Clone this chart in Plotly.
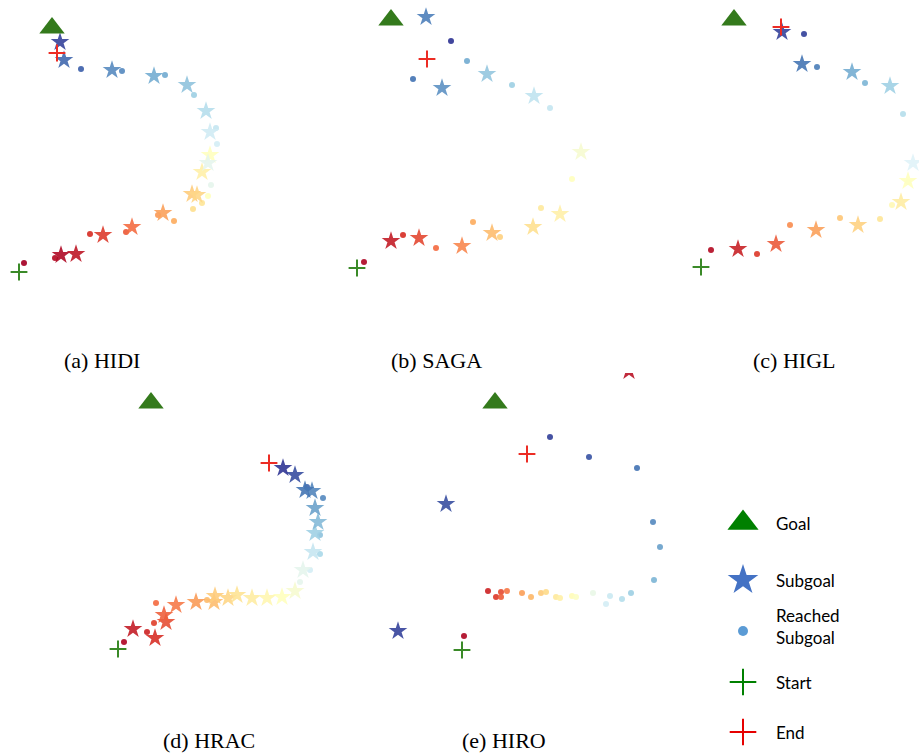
import plotly.graph_objects as go

W, H = 919, 755

# ---------------- data (image pixel coordinates, t = progress along trajectory: 0 start(red) -> 1 end(blue)) -------------
# (a) HIDI
hidi_star_x = [61, 76, 103, 132, 163, 192, 197, 202, 210, 208, 210, 206, 187, 154, 112, 64, 60]
hidi_star_y = [255, 254, 235, 227, 213, 194, 195, 172, 155, 163, 132, 111, 85, 76, 70, 60, 42]
hidi_star_t = [0.02, 0.05, 0.12, 0.2, 0.28, 0.36, 0.38, 0.45, 0.5, 0.58, 0.63, 0.68, 0.75, 0.8, 0.86, 0.92, 0.98]
hidi_dot_x = [24, 55, 90, 126, 158, 174, 193, 202, 208, 211, 217, 216, 194, 165, 122, 81]
hidi_dot_y = [263, 258, 234, 232, 215, 221, 209, 203, 196, 185, 144, 128, 95, 75, 71, 69]
hidi_dot_t = [0.0, 0.03, 0.1, 0.17, 0.27, 0.3, 0.4, 0.42, 0.5, 0.58, 0.62, 0.65, 0.72, 0.8, 0.86, 0.93]
hidi_goal, hidi_start, hidi_end = (52, 28), (19, 272), (57, 53)

# (b) SAGA
saga_star_x = [391, 419, 462, 492, 533, 560, 581, 534, 487, 442, 426]
saga_star_y = [241, 238, 246, 233, 227, 214, 152, 96, 74, 88, 17]
saga_star_t = [0.06, 0.14, 0.24, 0.33, 0.4, 0.45, 0.53, 0.66, 0.74, 0.85, 0.88]
saga_dot_x = [364, 403, 436, 473, 500, 541, 572, 550, 512, 467, 413, 451]
saga_dot_y = [262, 235, 248, 222, 237, 208, 179, 108, 85, 61, 79, 41]
saga_dot_t = [0.02, 0.1, 0.2, 0.3, 0.37, 0.43, 0.5, 0.65, 0.72, 0.8, 0.9, 1.0]
saga_goal, saga_start, saga_end = (391, 20), (357, 268), (427, 59)

# (c) HIGL
higl_star_x = [738, 776, 816, 858, 901, 908, 913, 890, 852, 802, 782]
higl_star_y = [249, 244, 230, 225, 202, 181, 163, 86, 72, 64, 32]
higl_star_t = [0.07, 0.17, 0.28, 0.37, 0.44, 0.5, 0.6, 0.72, 0.8, 0.9, 0.98]
higl_dot_x = [711, 757, 790, 840, 880, 892, 908, 903, 865, 817, 804]
higl_dot_y = [250, 254, 225, 218, 219, 205, 182, 114, 83, 67, 34]
higl_dot_t = [0.03, 0.12, 0.25, 0.35, 0.42, 0.48, 0.58, 0.68, 0.78, 0.88, 0.98]
higl_goal, higl_start, higl_end = (734, 20), (701, 267), (781, 27)

# (d) HRAC
hrac_star_x = [133, 155, 166, 164, 176, 196, 214, 215, 228, 237, 252, 267, 282, 295, 303, 313, 315, 318, 315, 312, 305, 295, 283]
hrac_star_y = [629, 638, 622, 615, 605, 602, 602, 596, 598, 595, 598, 598, 597, 591, 570, 552, 533, 522, 508, 491, 490, 475, 468]
hrac_star_t = [0.06, 0.1, 0.15, 0.18, 0.22, 0.27, 0.33, 0.36, 0.38, 0.41, 0.44, 0.47, 0.5, 0.53, 0.58, 0.65, 0.72, 0.77, 0.82, 0.87, 0.9, 0.96, 1.0]
hrac_dot_x = [124, 147, 154, 156, 207, 300, 310, 320, 320, 323, 307]
hrac_dot_y = [642, 632, 623, 603, 600, 582, 570, 554, 535, 498, 487]
hrac_dot_t = [0.02, 0.08, 0.13, 0.2, 0.33, 0.58, 0.62, 0.7, 0.75, 0.86, 0.92]
hrac_goal, hrac_start, hrac_end = (151, 403), (118, 649), (269, 463)

# (e) HIRO
hiro_star_x = [629, 446, 398]
hiro_star_y = [371, 504, 631]
hiro_star_t = [0.04, 0.96, 0.98]
hiro_dot_x = [464, 488, 496, 501, 501, 507, 522, 531, 541, 546, 556, 560, 572, 576, 593, 606, 610, 622, 631, 654, 660, 653, 637, 589, 550]
hiro_dot_y = [636, 591, 597, 592, 597, 591, 593, 597, 593, 592, 597, 598, 596, 597, 593, 604, 596, 599, 593, 580, 547, 522, 468, 457, 437]
hiro_dot_t = [0.02, 0.08, 0.12, 0.15, 0.18, 0.22, 0.28, 0.32, 0.36, 0.39, 0.43, 0.45, 0.49, 0.51, 0.57, 0.62, 0.64, 0.68, 0.72, 0.78, 0.82, 0.86, 0.9, 0.95, 0.98]
hiro_goal, hiro_start, hiro_end = (495, 403), (462, 650), (527, 454)

captions = ["(a) HIDI", "(b) SAGA", "(c) HIGL", "(d) HRAC", "(e) HIRO"]
caption_pos = [(102, 360), (436, 360), (794, 360), (209, 740), (504, 740)]

legend_labels = ["Goal", "Subgoal", "Reached<br>Subgoal", "Start", "End"]
legend_y = [523, 580, 626, 682, 732]

# ---------------- panels: (pixel box x0, x1, y0, y1) ----------------
panels = [
    dict(box=(0, 230, 0, 300), sx=hidi_star_x, sy=hidi_star_y, st=hidi_star_t, dx=hidi_dot_x, dy=hidi_dot_y, dt=hidi_dot_t,
         goal=hidi_goal, start=hidi_start, end=hidi_end),
    dict(box=(330, 600, 0, 300), sx=saga_star_x, sy=saga_star_y, st=saga_star_t, dx=saga_dot_x, dy=saga_dot_y, dt=saga_dot_t,
         goal=saga_goal, start=saga_start, end=saga_end),
    dict(box=(680, 919, 0, 300), sx=higl_star_x, sy=higl_star_y, st=higl_star_t, dx=higl_dot_x, dy=higl_dot_y, dt=higl_dot_t,
         goal=higl_goal, start=higl_start, end=higl_end),
    dict(box=(80, 350, 385, 690), sx=hrac_star_x, sy=hrac_star_y, st=hrac_star_t, dx=hrac_dot_x, dy=hrac_dot_y, dt=hrac_dot_t,
         goal=hrac_goal, start=hrac_start, end=hrac_end),
    dict(box=(375, 690, 373, 690), sx=hiro_star_x, sy=hiro_star_y, st=hiro_star_t, dx=hiro_dot_x, dy=hiro_dot_y, dt=hiro_dot_t,
         goal=hiro_goal, start=hiro_start, end=hiro_end),
]

fig = go.Figure()
layout = dict(width=W, height=H, margin=dict(l=0, r=0, t=0, b=0), paper_bgcolor="white",
              plot_bgcolor="rgba(0,0,0,0)", showlegend=False)

GOAL_C = "rgb(52,122,28)"
START_C = "rgb(58,138,40)"
END_C = "rgb(236,44,36)"


def add_axes(i, box):
    x0, x1, y0, y1 = box
    sfx = "" if i == 1 else str(i)
    layout["xaxis" + sfx] = dict(domain=[x0 / W, x1 / W], range=[x0, x1], visible=False, fixedrange=True,
                                 anchor="y" + sfx)
    layout["yaxis" + sfx] = dict(domain=[1 - y1 / H, 1 - y0 / H], range=[y1, y0], visible=False, fixedrange=True,
                                 anchor="x" + sfx)
    return "x" + sfx, "y" + sfx


for i, p in enumerate(panels, start=1):
    xa, ya = add_axes(i, p["box"])
    fig.add_trace(go.Scatter(x=p["dx"], y=p["dy"], mode="markers", xaxis=xa, yaxis=ya, hoverinfo="skip",
                             marker=dict(symbol="circle", size=6, color=p["dt"], colorscale="RdYlBu", cmin=0, cmax=1,
                                         opacity=0.92, line=dict(width=0))))
    fig.add_trace(go.Scatter(x=p["sx"], y=p["sy"], mode="markers", xaxis=xa, yaxis=ya, hoverinfo="skip",
                             marker=dict(symbol="star", size=14, color=p["st"], colorscale="RdYlBu", cmin=0, cmax=1,
                                         opacity=0.9, line=dict(width=0))))
    fig.add_trace(go.Scatter(x=[p["goal"][0]], y=[p["goal"][1]], mode="markers", xaxis=xa, yaxis=ya, hoverinfo="skip",
                             marker=dict(symbol="triangle-up", size=22, color=GOAL_C, line=dict(width=0))))
    fig.add_trace(go.Scatter(x=[p["start"][0]], y=[p["start"][1]], mode="markers", xaxis=xa, yaxis=ya, hoverinfo="skip",
                             marker=dict(symbol="cross-thin", size=12, line=dict(width=2, color=START_C))))
    fig.add_trace(go.Scatter(x=[p["end"][0]], y=[p["end"][1]], mode="markers", xaxis=xa, yaxis=ya, hoverinfo="skip",
                             marker=dict(symbol="cross-thin", size=12, line=dict(width=2, color=END_C))))

# legend panel
xa, ya = add_axes(6, (700, 919, 490, 755))
leg_x = [743] * 5
fig.add_trace(go.Scatter(x=leg_x[:1], y=legend_y[:1], mode="markers", xaxis=xa, yaxis=ya, hoverinfo="skip",
                         marker=dict(symbol="triangle-up", size=27, color="rgb(0,128,0)", line=dict(width=0))))
fig.add_trace(go.Scatter(x=leg_x[1:2], y=legend_y[1:2], mode="markers", xaxis=xa, yaxis=ya, hoverinfo="skip",
                         marker=dict(symbol="star", size=23, color="rgb(68,114,196)", line=dict(width=0))))
fig.add_trace(go.Scatter(x=leg_x[2:3], y=[631], mode="markers", xaxis=xa, yaxis=ya, hoverinfo="skip",
                         marker=dict(symbol="circle", size=10, color="rgb(91,155,213)", line=dict(width=0))))
fig.add_trace(go.Scatter(x=leg_x[3:4], y=legend_y[3:4], mode="markers", xaxis=xa, yaxis=ya, hoverinfo="skip",
                         marker=dict(symbol="cross-thin", size=19, line=dict(width=2, color="rgb(0,128,0)"))))
fig.add_trace(go.Scatter(x=leg_x[4:5], y=legend_y[4:5], mode="markers", xaxis=xa, yaxis=ya, hoverinfo="skip",
                         marker=dict(symbol="cross-thin", size=19, line=dict(width=2, color="rgb(230,0,0)"))))

annotations = []
for lab, ly in zip(legend_labels, legend_y):
    annotations.append(dict(x=774 / W, y=1 - ly / H, xref="paper", yref="paper", text=lab, showarrow=False,
                            xanchor="left", yanchor="middle", align="left",
                            font=dict(family="Lato, Open Sans, sans-serif", size=17, color="black")))
for cap, (cx, cy) in zip(captions, caption_pos):
    annotations.append(dict(x=cx / W, y=1 - cy / H, xref="paper", yref="paper", text=cap, showarrow=False,
                            xanchor="center", yanchor="middle",
                            font=dict(family="Liberation Serif, Times New Roman, serif", size=22, color="black")))
layout["annotations"] = annotations

fig.update_layout(**layout)
fig.write_html("out.html", config={"displayModeBar": False},
               post_script="document.body.style.margin='0';document.body.style.overflow='hidden';")
